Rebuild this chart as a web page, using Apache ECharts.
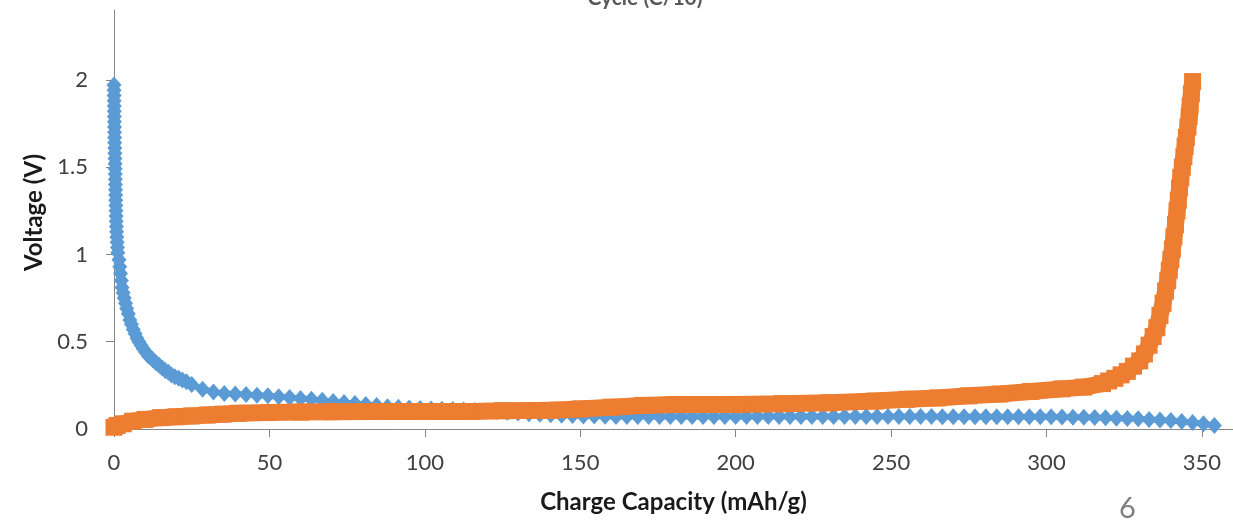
<!DOCTYPE html>
<html>
<head>
<meta charset="utf-8">
<script src="https://cdn.jsdelivr.net/npm/echarts@6/dist/echarts.min.js"></script>
<style>
html,body{margin:0;padding:0;background:#fff;}
#chart{width:1233px;height:520px;}
</style>
</head>
<body>
<div id="chart"></div>
<script>
// Discharge curve (blue diamonds)
const dischargeCap = [0,0.02,0.04,0.06,0.08,0.1,0.12,0.14,0.16,0.18,0.2,0.23,0.26,0.29,0.32,0.35,0.38,0.41,0.44,0.47,0.5,0.53,0.56,0.6,0.64,0.68,0.72,0.78,0.85,0.93,1.02,1.12,1.23,
  1.6,1.85,2.1,2.35,2.6,2.95,3.3,3.7,4.1,4.6,5.1,5.6,6.2,6.8,7.4,8.0,
  8.7,9.4,10.2,11.0,11.8,12.6,13.5,14.5,15.5,16.5,17.5,18.5,19.6,20.8,22,23.3,25,28.5,
  32,35.5,39,42.5,46,49.5,53,56.5,60,63.5,67,70.5,74,77.5,81,84.5,88,91.5,95,98.5,102,105.5,109,112.5,116,119.5,123,126.5,130,133.5,137,140.5,144,147.5,151,154.5,158,161.5,165,168.5,172,175.5,179,182.5,186,189.5,193,196.5,200,203.5,207,210.5,214,217.5,221,224.5,228,231.5,235,238.5,242,245.5,249,252.5,256,259.5,263,266.5,270,273.5,277,280.5,284,287.5,291,294.5,298,301.5,305,308.5,312,315.5,319,322.5,326,329.5,333,336.5,340,343.5,347,350.5,354];
const dischargeV = [1.97,1.94,1.91,1.88,1.85,1.82,1.79,1.76,1.73,1.7,1.67,1.64,1.61,1.58,1.55,1.52,1.49,1.46,1.43,1.4,1.37,1.34,1.31,1.28,1.25,1.22,1.19,1.16,1.13,1.1,1.07,1.04,1.01,
  0.97,0.93,0.89,0.85,0.81,0.78,0.75,0.72,0.69,0.66,0.625,0.6,0.57,0.545,0.52,0.5,
  0.48,0.46,0.44,0.42,0.41,0.395,0.38,0.365,0.35,0.335,0.325,0.31,0.3,0.29,0.28,0.27,0.255,0.228,
  0.212,0.204,0.2,0.197,0.194,0.19,0.185,0.18,0.175,0.17,0.164,0.158,0.152,0.146,0.14,0.134,0.128,0.124,0.12,0.117,0.115,0.113,0.111,0.109,0.106,0.103,0.1,0.096,0.092,0.088,0.085,0.082,0.079,0.077,0.075,0.074,0.073,0.072,0.072,0.071,0.071,0.071,0.071,0.071,0.071,0.071,0.071,0.071,0.071,0.071,0.071,0.071,0.071,0.071,0.071,0.071,0.071,0.071,0.071,0.071,0.071,0.071,0.071,0.071,0.071,0.071,0.071,0.07,0.07,0.07,0.07,0.07,0.07,0.07,0.07,0.07,0.07,0.07,0.069,0.068,0.067,0.066,0.064,0.062,0.06,0.058,0.055,0.052,0.048,0.043,0.037,0.03,0.02,0.009,0.001];

// Charge curve (orange squares)
const chargeCap = [0,1,3,6,10,15,20,25,30,35,40,50,60,70,85,100,115,125,140,150,160,170,180,200,215,230,245,255,265,275,285,295,305,312,
  318,320,322,324,326,328,330,331.5,333,334.3,335.5,336.5,337.5,338.3,339,339.5,340,340.5,341,341.5,342,342.4,342.8,343.2,343.7,344.2,344.6,345,345.5,345.9,346.2,346.6,347];
const chargeV = [0.01,0.02,0.03,0.045,0.055,0.065,0.07,0.075,0.08,0.085,0.09,0.095,0.097,0.099,0.1,0.1,0.1,0.105,0.107,0.115,0.125,0.135,0.14,0.14,0.145,0.15,0.16,0.17,0.178,0.19,0.2,0.215,0.23,0.24,
  0.26,0.275,0.29,0.31,0.33,0.36,0.39,0.43,0.48,0.53,0.58,0.65,0.72,0.79,0.85,0.91,0.97,1.03,1.1,1.17,1.25,1.31,1.38,1.44,1.5,1.56,1.62,1.67,1.73,1.79,1.85,1.92,1.99];

const titleText = 'Cycle (C/10)';
const xName = 'Charge Capacity (mAh/g)';
const yName = 'Voltage (V)';
const pageNumber = '6';

const discharge = dischargeCap.map((c, i) => [c, dischargeV[i]]);
const charge = chargeCap.map((c, i) => [c, chargeV[i]]);

const chart = echarts.init(document.getElementById('chart'));
const axisColor = '#868686';
const labelColor = '#404040';
const font = 'Lato, "Open Sans", "Liberation Sans", sans-serif';

chart.setOption({
  animation: false,
  backgroundColor: '#ffffff',
  title: {
    text: titleText,
    left: 640,
    top: -17,
    textAlign: 'center',
    textStyle: {fontFamily: font, fontSize: 21, fontWeight: 'bold', color: '#595959'}
  },
  graphic: [{
    type: 'text',
    left: 1119,
    top: 494,
    style: {text: pageNumber, fontFamily: font, fontSize: 29, fill: '#7f7f7f'}
  }],
  grid: {left: 114, right: -2, top: 10, bottom: 91},
  xAxis: {
    type: 'value', min: 0, max: 360, interval: 50,
    name: xName, nameLocation: 'middle', nameGap: 61,
    nameTextStyle: {fontFamily: font, fontSize: 24, fontWeight: 'bold', color: '#1a1a1a'},
    axisLine: {show: true, lineStyle: {color: axisColor, width: 1}},
    axisTick: {show: true, length: 8, lineStyle: {color: axisColor}},
    axisLabel: {fontFamily: font, fontSize: 22, color: labelColor, margin: 23, showMaxLabel: false},
    splitLine: {show: false}
  },
  yAxis: {
    type: 'value', min: 0, max: 2.4, interval: 0.5,
    name: yName, nameLocation: 'middle', nameGap: 67,
    nameTextStyle: {fontFamily: font, fontSize: 24, fontWeight: 'bold', color: '#1a1a1a', padding: [0, 0, 0, 14]},
    axisLine: {show: true, lineStyle: {color: axisColor, width: 1}},
    axisTick: {show: true, length: 8, lineStyle: {color: axisColor}},
    axisLabel: {fontFamily: font, fontSize: 22, color: labelColor, margin: 26, showMaxLabel: false},
    splitLine: {show: false}
  },
  series: [
    {
      name: 'Discharge', type: 'line', data: discharge,
      symbol: 'diamond', symbolSize: [15, 17], showAllSymbol: true,
      itemStyle: {color: '#5B9BD5'},
      lineStyle: {color: '#5B9BD5', width: 6},
      clip: false, z: 2
    },
    {
      name: 'Charge', type: 'line', data: charge,
      symbol: 'rect', symbolSize: 17, showAllSymbol: true,
      itemStyle: {color: '#ED7D31'},
      lineStyle: {color: '#ED7D31', width: 17, cap: 'butt', join: 'round'},
      clip: false, z: 3
    }
  ]
});
</script>
</body>
</html>
